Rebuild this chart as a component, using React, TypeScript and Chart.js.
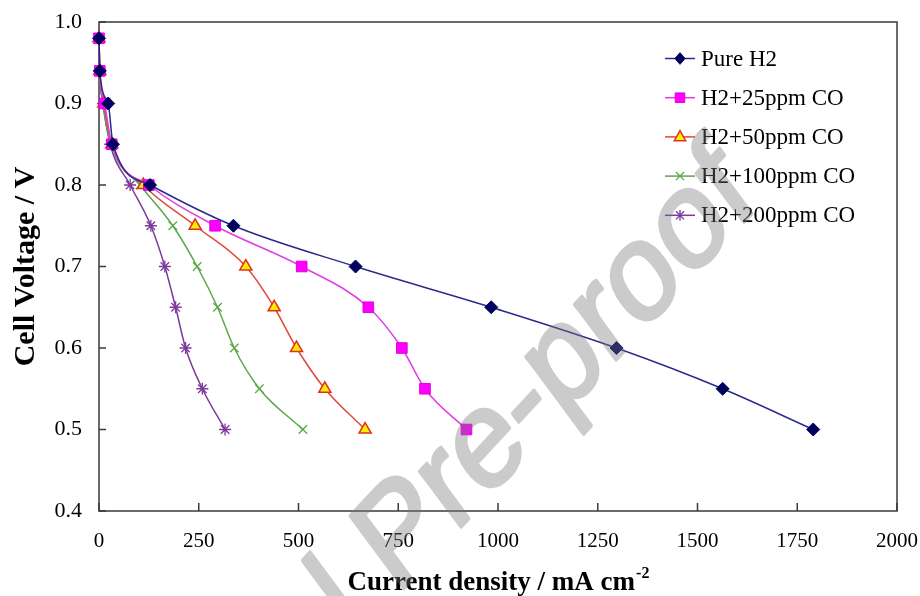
import React, { useEffect, useRef } from 'react';
import { Chart, registerables } from 'chart.js';

Chart.register(...registerables);

// Voltage levels (V) shared by all polarization curves
const voltages = [0.98, 0.94, 0.9, 0.85, 0.8, 0.75, 0.7, 0.65, 0.6, 0.55, 0.5];
// Current densities (mA cm-2) for each series
const pureH2 = [0, 2, 23, 35, 128, 337, 643, 983, 1297, 1563, 1790];
const co25 = [0, 2, 14, 32, 125, 291, 508, 675, 759, 817, 921];
const co50 = [0, 2, 12, 32, 111, 241, 368, 439, 495, 566, 667];
const co100 = [0, 2, 10, 30, 103, 185, 246, 297, 339, 402, 511];
const co200 = [0, 2, 10, 28, 78, 130, 165, 192, 217, 259, 316];

const seriesLabels = ['Pure H2', 'H2+25ppm CO', 'H2+50ppm CO', 'H2+100ppm CO', 'H2+200ppm CO'];
const xTickValues = [0, 250, 500, 750, 1000, 1250, 1500, 1750, 2000];
const yTickValues = [0.4, 0.5, 0.6, 0.7, 0.8, 0.9, 1.0];
const xTitle = 'Current density / mA cm';
const xTitleSup = '-2';
const yTitle = 'Cell Voltage / V';
const watermark = 'Journal Pre-proof';

const SERIF = '"Liberation Serif", "Times New Roman", serif';

type Style = {
  line: string;
  point: string;
  fill: string;
  stroke: string;
  radius: number;
  bw: number;
};

const styles: Style[] = [
  { line: '#2b2b8c', point: 'rectRot', fill: '#00005e', stroke: '#00005e', radius: 6.5, bw: 1 },
  { line: '#e23de2', point: 'rect', fill: '#ff00ff', stroke: '#e000e0', radius: 7.5, bw: 1 },
  { line: '#e04a3a', point: 'triangle', fill: '#ffee00', stroke: '#e0321e', radius: 7, bw: 1.5 },
  { line: '#5aa848', point: 'crossRot', fill: '#5aa848', stroke: '#5aa848', radius: 6, bw: 1.3 },
  { line: '#7b3a9c', point: 'star', fill: '#7b3a9c', stroke: '#7b3a9c', radius: 6, bw: 1.3 },
];

const seriesX = [pureH2, co25, co50, co100, co200];

function drawMarker(ctx: CanvasRenderingContext2D, s: Style, x: number, y: number, r: number) {
  ctx.save();
  ctx.fillStyle = s.fill;
  ctx.strokeStyle = s.stroke;
  ctx.lineWidth = s.bw;
  ctx.beginPath();
  if (s.point === 'rectRot') {
    ctx.moveTo(x, y - r);
    ctx.lineTo(x + r * 0.85, y);
    ctx.lineTo(x, y + r);
    ctx.lineTo(x - r * 0.85, y);
    ctx.closePath();
    ctx.fill();
    ctx.stroke();
  } else if (s.point === 'rect') {
    const h = r * Math.SQRT1_2;
    ctx.rect(x - h, y - h, 2 * h, 2 * h);
    ctx.fill();
    ctx.stroke();
  } else if (s.point === 'triangle') {
    ctx.moveTo(x, y - r);
    ctx.lineTo(x + r * 0.9, y + r * 0.6);
    ctx.lineTo(x - r * 0.9, y + r * 0.6);
    ctx.closePath();
    ctx.fill();
    ctx.stroke();
  } else if (s.point === 'crossRot') {
    const d = r * 0.75;
    ctx.moveTo(x - d, y - d);
    ctx.lineTo(x + d, y + d);
    ctx.moveTo(x + d, y - d);
    ctx.lineTo(x - d, y + d);
    ctx.stroke();
  } else if (s.point === 'star') {
    const d = r * 0.75;
    ctx.moveTo(x - d, y - d);
    ctx.lineTo(x + d, y + d);
    ctx.moveTo(x + d, y - d);
    ctx.lineTo(x - d, y + d);
    ctx.moveTo(x, y - r);
    ctx.lineTo(x, y + r);
    ctx.stroke();
  }
  ctx.restore();
}

const resetPadding = (scale: any) => {
  scale.paddingTop = 0;
  scale.paddingBottom = 0;
  scale.paddingLeft = 0;
  scale.paddingRight = 0;
};

const framePlugin = {
  id: 'frameTicks',
  beforeDatasetsDraw(chart: any) {
    const { ctx, chartArea } = chart;
    const { left, right, top, bottom } = chartArea;
    const xs = chart.scales.x;
    const ys = chart.scales.y;
    ctx.save();
    ctx.strokeStyle = '#3a3a3a';
    ctx.lineWidth = 1.5;
    ctx.strokeRect(left, top, right - left, bottom - top);
    ctx.beginPath();
    xTickValues.forEach((v) => {
      const px = xs.getPixelForValue(v);
      ctx.moveTo(px, bottom);
      ctx.lineTo(px, bottom - 8);
    });
    yTickValues.forEach((v) => {
      const py = ys.getPixelForValue(v);
      ctx.moveTo(left, py);
      ctx.lineTo(left + 7, py);
    });
    ctx.stroke();
    ctx.restore();
  },
  afterDraw(chart: any) {
    const { ctx, chartArea } = chart;
    const { left, right, top } = chartArea;
    ctx.save();
    // Legend
    const lx = right - 232;
    seriesLabels.forEach((label, i) => {
      const y = top + 36.5 + i * 39.2;
      const s = styles[i];
      ctx.strokeStyle = s.line;
      ctx.lineWidth = 1.5;
      ctx.beginPath();
      ctx.moveTo(lx, y);
      ctx.lineTo(lx + 30, y);
      ctx.stroke();
      drawMarker(ctx, s, lx + 15, y, s.radius * 0.9);
      ctx.fillStyle = '#000';
      ctx.font = `23px ${SERIF}`;
      ctx.textAlign = 'left';
      ctx.textBaseline = 'middle';
      ctx.fillText(label, lx + 36, y + 1);
    });
    // X-axis title with superscript
    ctx.font = `bold 27px ${SERIF}`;
    const w1 = ctx.measureText(xTitle).width;
    ctx.font = `bold 16px ${SERIF}`;
    const w2 = ctx.measureText(xTitleSup).width;
    const cx = (left + right) / 2;
    const startX = cx - (w1 + w2) / 2;
    ctx.fillStyle = '#000';
    ctx.textAlign = 'left';
    ctx.textBaseline = 'alphabetic';
    ctx.font = `bold 27px ${SERIF}`;
    ctx.fillText(xTitle, startX, 590);
    ctx.font = `bold 16px ${SERIF}`;
    ctx.fillText(xTitleSup, startX + w1 + 1, 578);
    ctx.restore();

    // Watermark (horizontally compressed, rotated), drawn opaque offscreen then blended
    const off = document.createElement('canvas');
    off.width = chart.width;
    off.height = chart.height;
    const octx = off.getContext('2d');
    if (octx) {
      octx.scale(0.83, 1);
      octx.translate(478, 596);
      octx.rotate(-41.8 * Math.PI / 180);
      octx.font = '141px "Liberation Sans", Arial, sans-serif';
      octx.fillStyle = '#787878';
      octx.strokeStyle = '#787878';
      octx.lineWidth = 4;
      octx.lineJoin = 'round';
      octx.textAlign = 'left';
      octx.textBaseline = 'alphabetic';
      const jw = octx.measureText('Journal ').width;
      octx.fillText(watermark, -jw, 0);
      octx.strokeText(watermark, -jw, 0);
      ctx.save();
      ctx.globalAlpha = 0.38;
      ctx.drawImage(off, 0, 0);
      ctx.restore();
    }
  },
};

export default function App() {
  const canvasRef = useRef<HTMLCanvasElement | null>(null);

  useEffect(() => {
    const canvas = canvasRef.current;
    if (!canvas) return;
    const datasets = seriesLabels.map((label, i) => {
      const s = styles[i];
      return {
        label,
        data: seriesX[i].map((x, j) => ({ x, y: voltages[j] })),
        borderColor: s.line,
        borderWidth: 1.5,
        pointStyle: s.point,
        pointRadius: s.radius,
        pointBackgroundColor: s.fill,
        pointBorderColor: s.stroke,
        pointBorderWidth: s.bw,
        cubicInterpolationMode: 'monotone',
        clip: false,
        fill: false,
      };
    });
    const chart = new Chart(canvas, {
      type: 'line',
      data: { datasets } as any,
      options: {
        responsive: false,
        animation: false,
        layout: { padding: { left: 0, top: 22, right: 23, bottom: 0 } },
        plugins: {
          legend: { display: false },
          tooltip: { enabled: false },
        },
        scales: {
          x: {
            type: 'linear',
            min: 0,
            max: 2000,
            afterBuildTicks: (scale: any) => {
              scale.ticks = xTickValues.map((v) => ({ value: v }));
            },
            ticks: {
              color: '#000',
              font: { family: SERIF, size: 21 },
              padding: 18,
              maxRotation: 0,
              autoSkip: false,
              callback: (v: any) => String(v),
            },
            grid: { display: false, drawTicks: false },
            border: { display: false },
            afterFit: (scale: any) => {
              scale.height = 85;
              resetPadding(scale);
            },
          },
          y: {
            type: 'linear',
            min: 0.4,
            max: 1.0,
            afterBuildTicks: (scale: any) => {
              scale.ticks = yTickValues.map((v) => ({ value: v }));
            },
            ticks: {
              color: '#000',
              font: { family: SERIF, size: 22 },
              padding: 17,
              callback: (v: any) => Number(v).toFixed(1),
            },
            grid: { display: false, drawTicks: false },
            border: { display: false },
            title: {
              display: true,
              text: yTitle,
              color: '#000',
              font: { family: SERIF, size: 30, weight: 'bold' },
              padding: { top: 8, bottom: 0 },
            },
            afterFit: (scale: any) => {
              scale.width = 99;
              resetPadding(scale);
            },
          },
        },
      } as any,
      plugins: [framePlugin],
    });
    return () => chart.destroy();
  }, []);

  return (
    <div style={{ position: 'fixed', left: 0, top: 0, width: 920, height: 596, background: '#fff' }}>
      <canvas ref={canvasRef} width={920} height={596} style={{ width: 920, height: 596, display: 'block' }} />
    </div>
  );
}
